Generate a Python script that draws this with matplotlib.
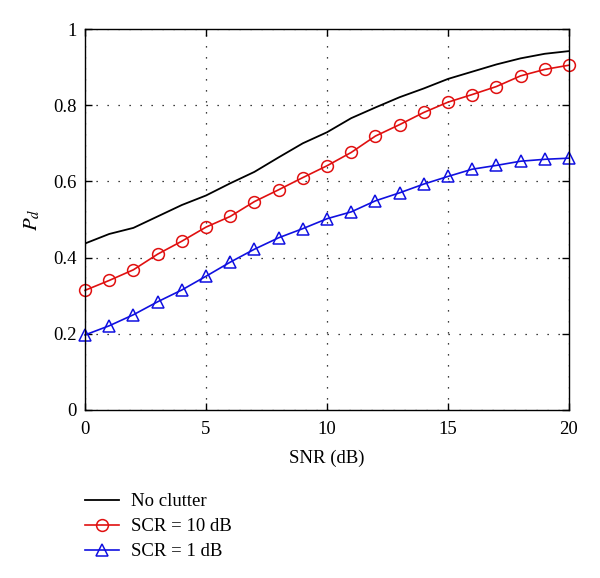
import matplotlib
matplotlib.use("Agg")
import matplotlib.pyplot as plt
import numpy as np

plt.rcParams['font.family'] = ['Liberation Serif', 'DejaVu Serif']
plt.rcParams['mathtext.fontset'] = 'stix'

snr = list(range(0, 21))
no_clutter = [0.437, 0.462, 0.478, 0.508, 0.538, 0.563, 0.595, 0.625, 0.663, 0.70, 0.729,
              0.766, 0.794, 0.821, 0.844, 0.869, 0.888, 0.907, 0.923, 0.935, 0.942]
scr10 = [0.314, 0.340, 0.368, 0.409, 0.443, 0.480, 0.508, 0.547, 0.578, 0.610, 0.641,
         0.676, 0.719, 0.749, 0.781, 0.808, 0.828, 0.849, 0.877, 0.894, 0.905]
scr1 = [0.197, 0.221, 0.250, 0.284, 0.315, 0.351, 0.388, 0.422, 0.452, 0.476, 0.502,
        0.520, 0.549, 0.570, 0.593, 0.613, 0.632, 0.642, 0.653, 0.658, 0.661]

fig = plt.figure(figsize=(6.0, 5.78), dpi=100)
ax = fig.add_axes([0.1417, 0.2907, 0.8066, 0.6591])

l1, = ax.plot(snr, no_clutter, color='black', lw=1.3, label='No clutter')
l2, = ax.plot(snr, scr10, color='#e01010', lw=1.2, marker='o', markersize=8.5,
              markerfacecolor='none', markeredgewidth=1.1, label='SCR = 10 dB', clip_on=False)
l3, = ax.plot(snr, scr1, color='#1010e0', lw=1.2, marker='^', markersize=8.5,
              markerfacecolor='none', markeredgewidth=1.1, label='SCR = 1 dB', clip_on=False)

ax.set_xlim(0, 20)
ax.set_ylim(0, 1)
ax.set_xticks([0, 5, 10, 15, 20])
ax.set_yticks([0, 0.2, 0.4, 0.6, 0.8, 1])
ax.set_yticklabels(['0', '0.2', '0.4', '0.6', '0.8', '1'])
ax.grid(True, linestyle=(0, (1, 7.8)), color='black', lw=0.9)
ax.tick_params(direction='in', top=True, right=True, labelsize=13.5, length=5, width=1)
ax.tick_params(axis='x', pad=8)
ax.tick_params(axis='y', pad=6)
for s in ax.spines.values():
    s.set_linewidth(1.0)
ax.set_xlabel('SNR (dB)', fontsize=13.5, labelpad=8)
ax.set_ylabel('$P_d$', fontsize=15, labelpad=8)

leg = fig.legend(handles=[l1, l2, l3], loc='upper left', bbox_to_anchor=(0.1417, 0.147),
                 bbox_transform=fig.transFigure, frameon=False, fontsize=13.5,
                 handlelength=1.8, handletextpad=0.65, labelspacing=0.42,
                 borderpad=0, borderaxespad=0)

fig.savefig('out.png', dpi=100)
